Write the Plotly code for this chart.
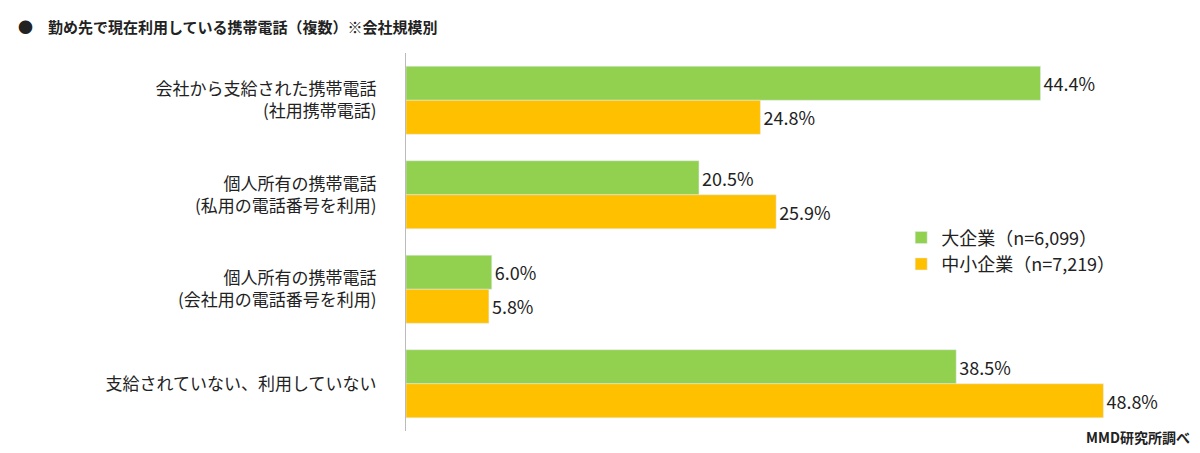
import plotly.graph_objects as go

categories = [
    "会社から支給された携帯電話<br>(社用携帯電話)",
    "個人所有の携帯電話<br>(私用の電話番号を利用)",
    "個人所有の携帯電話<br>(会社用の電話番号を利用)",
    "支給されていない、利用していない",
]
large = [44.4, 20.5, 6.0, 38.5]
small = [24.8, 25.9, 5.8, 48.8]

font = "Noto Sans CJK JP"

fig = go.Figure()
fig.add_trace(go.Bar(
    name="大企業（n=6,099）", y=categories, x=large, orientation="h",
    marker_color="#92D050", text=[f"{v:.1f}%" for v in large],
    textposition="outside", textfont=dict(size=18, color="#222"),
))
fig.add_trace(go.Bar(
    name="中小企業（n=7,219）", y=categories, x=small, orientation="h",
    marker_color="#FFC000", text=[f"{v:.1f}%" for v in small],
    textposition="outside", textfont=dict(size=18, color="#222"),
))

fig.update_layout(
    width=1200, height=453,
    plot_bgcolor="white", paper_bgcolor="white",
    font=dict(family=font, size=17, color="#222"),
    barmode="group", bargap=0.28, bargroupgap=0,
    margin=dict(l=398, r=16, t=45, b=30),
    showlegend=True,
    legend=dict(x=0.63, y=0.56, xanchor="left", yanchor="top",
                traceorder="normal", font=dict(size=18),
                itemwidth=30, tracegroupgap=12, bgcolor="rgba(0,0,0,0)"),
    xaxis=dict(range=[0, 55], visible=False),
    yaxis=dict(autorange="reversed", showline=True, linecolor="#BBBBBB",
               linewidth=1, ticks="", ticklabelstandoff=25,
               tickfont=dict(size=17)),
)

fig.add_annotation(
    text="<b>●　勤め先で現在利用している携帯電話（複数）※会社規模別</b>",
    xref="paper", yref="paper", x=-390 / 786, y=1.0, yshift=14,
    xanchor="left", yanchor="bottom", showarrow=False,
    font=dict(size=15, color="#222"),
)
fig.add_annotation(
    text="<b>MMD研究所調べ</b>",
    xref="paper", yref="paper", x=1.0, y=0, yshift=6,
    xanchor="right", yanchor="top", showarrow=False,
    font=dict(size=14, color="#222"),
)

fig.write_html("out.html")
